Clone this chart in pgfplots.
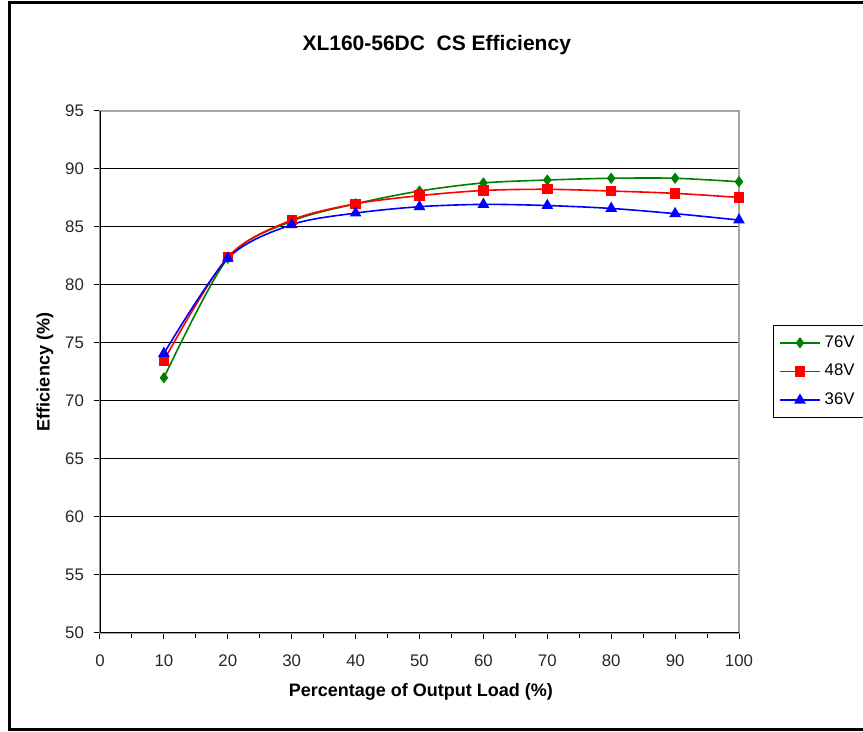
\documentclass[border=0pt]{standalone}
\usepackage{fontspec}
\setmainfont{Liberation Sans}
\usepackage{pgfplots}
\pgfplotsset{compat=1.18}
\definecolor{xlgreen}{RGB}{0,128,0}
\begin{document}
\begin{tikzpicture}
\useasboundingbox (0,0) rectangle (431.5pt,366pt);
\clip (0,0) rectangle (431.5pt,366pt);
\draw[line width=1.5pt] (4.5pt,1pt) rectangle (445pt,364.5pt);
\begin{axis}[
  at={(50pt,49.5pt)}, anchor=south west,
  scale only axis, width=319.5pt, height=261pt,
  xmin=0, xmax=100, ymin=50, ymax=95,
  xtick={0,10,...,100}, minor xtick={5,15,...,95},
  ytick={50,55,...,95},
  xtick pos=bottom, ytick pos=left, tick align=outside,
  major tick length=3pt, minor tick length=2.5pt,
  tick style={black, line width=0.5pt},
  ymajorgrids, grid style={black, line width=0.5pt},
  axis line style={gray!70, line width=0.8pt},
  /pgf/number format/assume math mode=true,
  ticklabel style={font=\fontsize{8.4}{10}\selectfont, text=black!85},
  xticklabel style={yshift=-4.5pt},
  yticklabel style={xshift=-1.5pt},
  title={XL160-56DC\ \ CS Efficiency},
  title style={font=\fontsize{10.5}{12}\selectfont\bfseries, at={(axis description cs:0.527,1.103)}, anchor=center},
  xlabel={Percentage of Output Load (\%)},
  xlabel style={font=\fontsize{9}{11}\selectfont\bfseries, at={(axis description cs:0.502,-0.112)}, anchor=center},
  ylabel={Efficiency (\%)},
  ylabel style={font=\fontsize{9}{11}\selectfont\bfseries, at={(axis description cs:-0.086,0.5)}, anchor=center},
  legend style={at={(axis description cs:1.053,0.59)}, anchor=north west, draw=black, line width=0.4pt,
    font=\fontsize{8.4}{10}\selectfont, row sep=3pt, inner xsep=3pt, inner ysep=3pt},
  legend cell align=left,
  legend image code/.code={\draw[mark repeat=2,mark phase=2] plot coordinates {(0cm,0cm) (0.35cm,0cm) (0.7cm,0cm)};},
  every axis plot/.append style={line width=0.8pt},
]
\addplot[xlgreen, smooth, mark=diamond*, mark size=2.2pt, mark options={fill=xlgreen}] coordinates {
(10,72.0)(20,82.3)(30,85.5)(40,87.0)(50,88.1)(60,88.8)(70,89.05)(80,89.2)(90,89.2)(100,88.9)};
\addlegendentry{76V}
\addplot[red, smooth, mark=square*, mark size=2.2pt, mark options={fill=red}] coordinates {
(10,73.5)(20,82.4)(30,85.6)(40,87.0)(50,87.7)(60,88.15)(70,88.25)(80,88.1)(90,87.9)(100,87.55)};
\addlegendentry{48V}
\addplot[blue, smooth, mark=triangle*, mark size=2.6pt, mark options={fill=blue}] coordinates {
(10,74.1)(20,82.3)(30,85.2)(40,86.2)(50,86.75)(60,86.95)(70,86.85)(80,86.6)(90,86.15)(100,85.6)};
\addlegendentry{36V}
\draw[black, line width=0.8pt] (rel axis cs:0,1) -- (rel axis cs:0,0) -- (rel axis cs:1,0);
\end{axis}
\end{tikzpicture}
\end{document}
